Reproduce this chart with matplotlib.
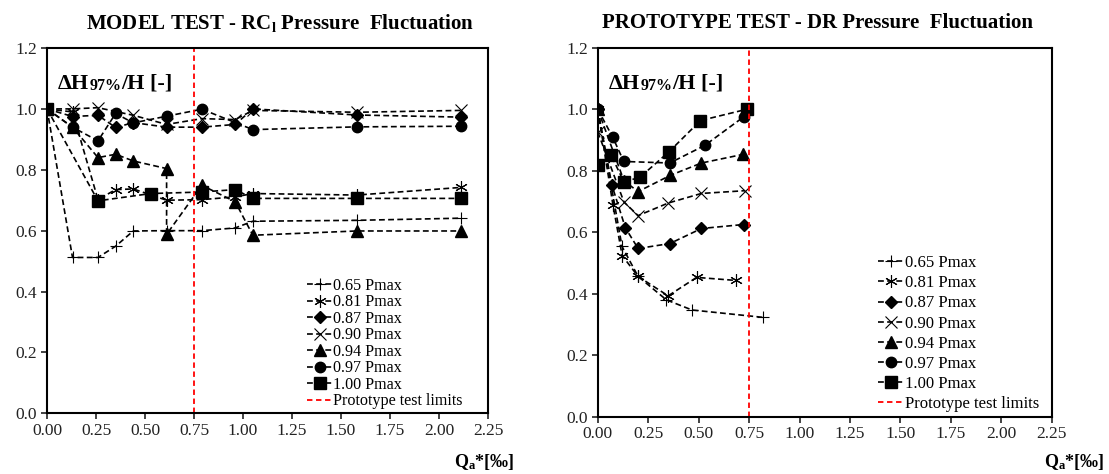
import matplotlib
matplotlib.use("Agg")
import matplotlib.pyplot as plt

plt.rcParams['font.family'] = ['Liberation Serif', 'DejaVu Serif']
plt.rcParams['mathtext.fontset'] = 'custom'
plt.rcParams['mathtext.rm'] = 'Liberation Serif'
plt.rcParams['mathtext.bf'] = 'Liberation Serif:bold'
plt.rcParams['mathtext.it'] = 'Liberation Serif:italic'

# ---------------- data: MODEL TEST ----------------
labels = ["0.65 Pmax", "0.81 Pmax", "0.87 Pmax", "0.90 Pmax",
          "0.94 Pmax", "0.97 Pmax", "1.00 Pmax"]
markers = ['+', (6, 2, 0), 'D', 'x', '^', 'o', 's']

m_x65 = [0, 0.13, 0.26, 0.35, 0.44, 0.61, 0.79, 0.96, 1.05, 1.58, 2.11]
m_y65 = [1.0, 0.512, 0.512, 0.549, 0.599, 0.60, 0.60, 0.609, 0.631, 0.634, 0.641]
m_x81 = [0, 0.13, 0.26, 0.35, 0.44, 0.61, 0.79, 0.96, 1.05, 1.58, 2.11]
m_y81 = [1.0, 0.99, 0.702, 0.735, 0.737, 0.70, 0.702, 0.711, 0.722, 0.717, 0.742]
m_x87 = [0, 0.13, 0.26, 0.35, 0.44, 0.61, 0.79, 0.96, 1.05, 1.58, 2.11]
m_y87 = [1.0, 0.975, 0.979, 0.939, 0.955, 0.94, 0.94, 0.949, 1.0, 0.98, 0.973]
m_x90 = [0, 0.13, 0.26, 0.44, 0.61, 0.79, 0.96, 1.05, 1.58, 2.11]
m_y90 = [1.0, 1.0, 1.004, 0.979, 0.949, 0.968, 0.965, 0.995, 0.989, 0.995]
m_x94 = [0, 0.13, 0.26, 0.35, 0.44, 0.61, 0.61, 0.79, 0.96, 1.05, 1.58, 2.11]
m_y94 = [1.0, 0.94, 0.84, 0.851, 0.829, 0.804, 0.588, 0.749, 0.695, 0.585, 0.599, 0.599]
m_x97 = [0, 0.13, 0.26, 0.35, 0.44, 0.61, 0.79, 1.05, 1.58, 2.11]
m_y97 = [1.0, 0.94, 0.895, 0.985, 0.954, 0.976, 0.999, 0.932, 0.941, 0.943]
m_x100 = [0, 0.26, 0.53, 0.79, 0.96, 1.05, 1.58, 2.11]
m_y100 = [1.0, 0.698, 0.722, 0.727, 0.735, 0.706, 0.706, 0.706]

# ---------------- data: PROTOTYPE TEST ----------------
p_x65 = [0, 0.12, 0.20, 0.34, 0.467, 0.82]
p_y65 = [1.0, 0.554, 0.456, 0.38, 0.347, 0.323]
p_x81 = [0, 0.075, 0.121, 0.20, 0.349, 0.49, 0.687]
p_y81 = [1.0, 0.69, 0.524, 0.456, 0.393, 0.453, 0.443]
p_x87 = [0, 0.07, 0.137, 0.20, 0.357, 0.514, 0.723]
p_y87 = [1.0, 0.753, 0.614, 0.547, 0.563, 0.612, 0.625]
p_x90 = [0, 0.13, 0.20, 0.35, 0.514, 0.73]
p_y90 = [0.926, 0.698, 0.654, 0.695, 0.726, 0.735]
p_x94 = [0, 0.13, 0.20, 0.36, 0.514, 0.72]
p_y94 = [1.0, 0.767, 0.732, 0.785, 0.825, 0.853]
p_x97 = [0, 0.074, 0.129, 0.357, 0.53, 0.723]
p_y97 = [1.0, 0.909, 0.83, 0.825, 0.882, 0.975]
p_x100 = [0, 0.066, 0.129, 0.208, 0.354, 0.509, 0.74]
p_y100 = [0.82, 0.851, 0.764, 0.778, 0.862, 0.963, 1.0]

limit_x = 0.75
xticks = [0.00, 0.25, 0.50, 0.75, 1.00, 1.25, 1.50, 1.75, 2.00, 2.25]
yticks = [0.0, 0.2, 0.4, 0.6, 0.8, 1.0, 1.2]

model = [(m_x65, m_y65), (m_x81, m_y81), (m_x87, m_y87), (m_x90, m_y90),
         (m_x94, m_y94), (m_x97, m_y97), (m_x100, m_y100)]
proto = [(p_x65, p_y65), (p_x81, p_y81), (p_x87, p_y87), (p_x90, p_y90),
         (p_x94, p_y94), (p_x97, p_y97), (p_x100, p_y100)]

msizes = [9, 9, 6, 8, 8, 7.5, 8]
mews = [0.8, 0.8, 1, 0.8, 1, 1, 1]

fig = plt.figure(figsize=(11.09, 4.74), dpi=100)
axL = fig.add_axes([0.0424, 0.128, 0.3977, 0.7707])
axR = fig.add_axes([0.539, 0.1209, 0.4094, 0.7785])


def draw(ax, series, legend_anchor, labelspacing, legsize):
    for (xs, ys), lab, mk, ms, mw in zip(series, labels, markers, msizes, mews):
        ax.plot(xs, ys, linestyle=(0, (3.5, 2)), color='black', linewidth=1.2,
                marker=mk, markersize=ms, markeredgewidth=mw,
                markerfacecolor='black', markeredgecolor='black', label=lab)
    ax.axvline(limit_x, color='#ff0000', linestyle=(0, (3, 2)), linewidth=1.3,
               label='Prototype test limits')
    ax.set_xlim(0, 2.25)
    ax.set_ylim(0, 1.2)
    ax.set_xticks(xticks)
    ax.set_yticks(yticks)
    ax.set_xticklabels([f"{v:.2f}" for v in xticks])
    ax.set_yticklabels([f"{v:.1f}" for v in yticks])
    ax.tick_params(direction='out', length=4, width=1.2, labelsize=12.5,
                   colors='#222222', pad=3)
    for s in ax.spines.values():
        s.set_linewidth(1.5)
    t1 = ax.text(0.025, 0.93, 'ΔH', transform=ax.transAxes, fontsize=16,
                 fontweight='bold', va='top', ha='left')
    t2 = ax.annotate('97%', xy=(1, 0), xycoords=t1, fontsize=11.5,
                     fontweight='bold', va='bottom', ha='left')
    ax.annotate('/H [-]', xy=(1, 0), xycoords=t2, xytext=(0, 0),
                textcoords='offset points', fontsize=16, fontweight='bold',
                va='bottom', ha='left')
    fig.legend(*ax.get_legend_handles_labels(), loc='upper left',
               bbox_to_anchor=legend_anchor, bbox_transform=fig.transFigure,
               frameon=False, fontsize=legsize, handlelength=1.55,
               handletextpad=0.05, labelspacing=labelspacing,
               borderpad=0, borderaxespad=0)


draw(axL, model, (0.277, 0.414), 0.03, 11.6)
draw(axR, proto, (0.792, 0.462), 0.25, 12.0)

fig.text(280 / 1109, 1 - 23 / 474, r'MODEL TEST - RC$_{\mathbf{l}}$ Pressure  Fluctuation',
         ha='center', va='center', fontsize=15, fontweight='bold')
fig.text(817 / 1109, 1 - 23 / 474, 'PROTOTYPE TEST - DR Pressure  Fluctuation',
         ha='center', va='center', fontsize=15, fontweight='bold')

fig.text(515 / 1109, 1 - 462 / 474, r'Q$_{\mathbf{a}}$*[‰]', ha='right', va='center',
         fontsize=13, fontweight='bold')
fig.text(1105 / 1109, 1 - 462 / 474, r'Q$_{\mathbf{a}}$*[‰]', ha='right', va='center',
         fontsize=13, fontweight='bold')

fig.savefig('out.png', dpi=100)
